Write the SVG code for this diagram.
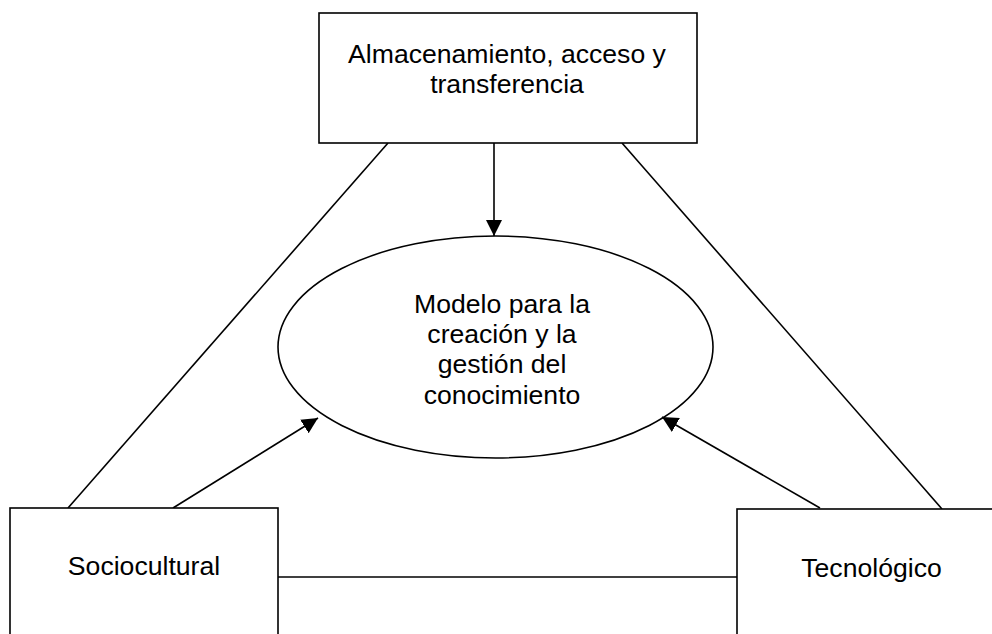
<svg xmlns="http://www.w3.org/2000/svg" width="992" height="634" viewBox="0 0 992 634">
<defs>
<style>
.box{fill:#fff;stroke:#000;stroke-width:1.6}
.ln{fill:none;stroke:#000;stroke-width:1.6}
.t{font-family:"Liberation Sans",Arial,sans-serif;font-size:26.6px;fill:#000;text-anchor:middle}
</style>
<marker id="ah" markerUnits="userSpaceOnUse" markerWidth="17" markerHeight="16" refX="16" refY="8" orient="auto">
<path d="M0,0 L16,8 L0,16 z" fill="#000"/>
</marker>
</defs>
<rect width="992" height="634" fill="#fff"/>
<g id="connectors">
<line class="ln" x1="388" y1="143" x2="68" y2="508"/>
<line class="ln" x1="622" y1="143" x2="942" y2="509"/>
<line class="ln" x1="278" y1="577" x2="737" y2="577"/>
<line class="ln" x1="494" y1="143" x2="494" y2="236" marker-end="url(#ah)"/>
<line class="ln" x1="173" y1="508" x2="318" y2="418" marker-end="url(#ah)"/>
<line class="ln" x1="820" y1="508" x2="662" y2="417" marker-end="url(#ah)"/>
</g>
<g id="almacenamiento">
<rect class="box" x="319" y="13" width="378" height="130"/>
<text class="t" x="507" y="63">Almacenamiento, acceso y</text>
<text class="t" x="507" y="93">transferencia</text>
</g>
<g id="modelo">
<ellipse class="box" cx="495.5" cy="347" rx="217.5" ry="111" style="fill:none"/>
<text class="t" x="502" y="313">Modelo para la</text>
<text class="t" x="502" y="343">creación y la</text>
<text class="t" x="502" y="373">gestión del</text>
<text class="t" x="502" y="404">conocimiento</text>
</g>
<g id="sociocultural">
<rect class="box" x="10" y="508" width="268" height="140"/>
<text class="t" x="144" y="575">Sociocultural</text>
</g>
<g id="tecnologico">
<rect class="box" x="737" y="509" width="270" height="140"/>
<text class="t" x="871.5" y="577">Tecnológico</text>
</g>
</svg>
